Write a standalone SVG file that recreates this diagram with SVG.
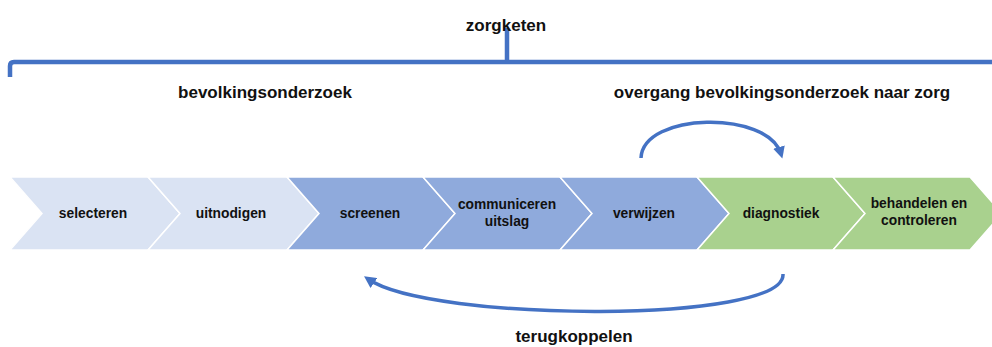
<svg xmlns="http://www.w3.org/2000/svg" width="992" height="347" viewBox="0 0 992 347">
<style>
  .t { font-family: "Liberation Sans", Arial, sans-serif; font-weight: bold; fill: #111; text-anchor: middle; }
  .title { font-size: 17px; }
  .lbl { font-size: 13.8px; }
  .light { fill: #DAE3F3; stroke: #ffffff; stroke-width: 1.5; }
  .mid { fill: #8FAADC; stroke: #ffffff; stroke-width: 1.5; }
  .green { fill: #A9D18E; stroke: #ffffff; stroke-width: 1.5; }
  .line { fill: none; stroke: #4472C4; stroke-width: 4.5; }
  .arc { fill: none; stroke: #4472C4; stroke-width: 3.5; }
</style>
<defs>
  <marker id="ah" viewBox="0 0 10 10" refX="6" refY="5" markerUnits="userSpaceOnUse" markerWidth="12" markerHeight="12" orient="auto">
    <path d="M0,0 L10,5 L0,10 z" fill="#4472C4"/>
  </marker>
</defs>
<rect width="992" height="347" fill="#ffffff"/>

<g id="bracket">
  <path class="line" d="M10,77 L10,66 Q10,62 14,62 L992,62 M507,62 L507,28"/>
</g>

<text class="t title" x="506" y="31">zorgketen</text>
<text class="t title" x="265" y="98">bevolkingsonderzoek</text>
<text class="t title" x="782" y="98">overgang bevolkingsonderzoek naar zorg</text>
<text class="t title" x="574" y="342">terugkoppelen</text>

<g id="n1"><polygon class="light" points="10,177 148,177 180,213.5 148,250 10,250 42,213.5"/><text class="t lbl" x="93" y="218">selecteren</text></g>
<g id="n2"><polygon class="light" points="148,177 287,177 319,213.5 287,250 148,250 180,213.5"/><text class="t lbl" x="231" y="218">uitnodigen</text></g>
<g id="n3"><polygon class="mid" points="287,177 423,177 455,213.5 423,250 287,250 319,213.5"/><text class="t lbl" x="370" y="218">screenen</text></g>
<g id="n4"><polygon class="mid" points="423,177 560,177 592,213.5 560,250 423,250 455,213.5"/><text class="t lbl" x="507" y="209">communiceren</text><text class="t lbl" x="507" y="226">uitslag</text></g>
<g id="n5"><polygon class="mid" points="560,177 697,177 729,213.5 697,250 560,250 592,213.5"/><text class="t lbl" x="644" y="218">verwijzen</text></g>
<g id="n6"><polygon class="green" points="697,177 833,177 865,213.5 833,250 697,250 729,213.5"/><text class="t lbl" x="781" y="218">diagnostiek</text></g>
<g id="n7"><polygon class="green" points="833,177 970,177 1002,213.5 970,250 833,250 865,213.5"/><text class="t lbl" x="919" y="208">behandelen en</text><text class="t lbl" x="919" y="225">controleren</text></g>

<g id="connectors">
  <path class="arc" d="M641,158 C 643,112 768,110 781,154" marker-end="url(#ah)"/>
  <path class="arc" d="M783,274 C 786,324 430,322 368,279" marker-end="url(#ah)"/>
</g>
</svg>
